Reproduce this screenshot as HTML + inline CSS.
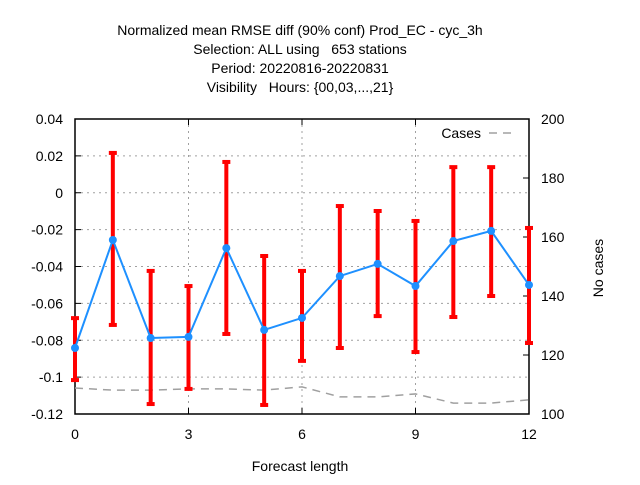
<!DOCTYPE html>
<html><head><meta charset="utf-8"><style>
body{margin:0;background:#fff}
svg{font-family:"Liberation Sans",sans-serif;font-size:14px}
.pre{white-space:pre}
</style></head><body>
<svg id="c" width="640" height="480" xmlns="http://www.w3.org/2000/svg"></svg>
<script>
const xs=[0,1,2,3,4,5,6,7,8,9,10,11,12];
const means=[-0.0842,-0.0256,-0.0788,-0.0782,-0.030,-0.0744,-0.0679,-0.0452,-0.0386,-0.0506,-0.0262,-0.0207,-0.050];
const highs=[-0.068,0.0216,-0.0424,-0.0506,0.0167,-0.0343,-0.0424,-0.0072,-0.0099,-0.0153,0.0139,0.0139,-0.0191];
const lows=[-0.1016,-0.0717,-0.1146,-0.1064,-0.0766,-0.1151,-0.0912,-0.0842,-0.0669,-0.0864,-0.0674,-0.056,-0.0815];
const cases=[108.8,108.1,108.1,108.5,108.5,108.1,109.2,105.8,105.8,106.8,103.7,103.7,104.8];
const yTicks=[0.04,0.02,0,-0.02,-0.04,-0.06,-0.08,-0.1,-0.12];
const yTickLabels=["0.04","0.02","0","-0.02","-0.04","-0.06","-0.08","-0.1","-0.12"];
const y2Ticks=[200,180,160,140,120,100];
const xTicks=[0,3,6,9,12];
const L=75,R=529,T=119,B=414;
const X=v=>L+(v-0)/12*(R-L);
const Y=v=>B-(v+0.12)/0.16*(B-T);
const Y2=v=>B-(v-100)/100*(B-T);
const svg=document.getElementById('c');
const NS='http://www.w3.org/2000/svg';
function mk(t,a,name,txt){const e=document.createElementNS(NS,t);for(const k in a)e.setAttribute(k,a[k]);


if(txt!==undefined)e.textContent=txt;svg.appendChild(e);return e;}
["Normalized mean RMSE diff (90% conf) Prod_EC - cyc_3h","Selection: ALL using   653 stations","Period: 20220816-20220831","Visibility   Hours: {00,03,...,21}"].forEach((t,i)=>{
mk('text',{x:300,y:35+i*19,'text-anchor':'middle','class':'pre'},'chart-title-line',t);});
yTicks.forEach((v,i)=>{const y=Y(v);
if(i>0&&i<yTicks.length-1)mk('line',{x1:L,x2:R,y1:y,y2:y,stroke:'#a0a0a0','stroke-dasharray':'2,4'},'y-gridline');
mk('line',{x1:L,x2:L+6,y1:y,y2:y,stroke:'#000'},'y-tick');
mk('text',{x:L-12,y:y+5,'text-anchor':'end'},'y-tick-label',yTickLabels[i]);});
y2Ticks.forEach(v=>{const y=Y2(v);
mk('line',{x1:R-6,x2:R,y1:y,y2:y,stroke:'#000'},'y2-tick');
mk('text',{x:R+12,y:y+5},'y2-tick-label',String(v));});
xTicks.forEach(v=>{const x=X(v);
if(v>0&&v<12)mk('line',{x1:x,x2:x,y1:T,y2:B,stroke:'#a0a0a0','stroke-dasharray':'2,4'},'x-gridline');
mk('line',{x1:x,x2:x,y1:B-6,y2:B,stroke:'#000'},'x-tick');
mk('line',{x1:x,x2:x,y1:T,y2:T+6,stroke:'#000'},'x-tick-top');
mk('text',{x:x,y:B+25,'text-anchor':'middle'},'x-tick-label',String(v));});
mk('rect',{x:L,y:T,width:R-L,height:B-T,fill:'none',stroke:'#000','stroke-width':1.5},'plot-frame');
mk('text',{x:300,y:471,'text-anchor':'middle'},'x-axis-title','Forecast length');
mk('text',{x:603,y:268,'text-anchor':'middle',transform:'rotate(-90 603 268)'},'y2-axis-title','No cases');
mk('polyline',{points:xs.map((x,i)=>X(x)+','+Y2(cases[i])).join(' '),fill:'none',stroke:'#a0a0a0','stroke-width':1.5,'stroke-dasharray':'8,6'},'cases-line');
mk('text',{x:481,y:138,'text-anchor':'end'},'legend-label','Cases');
mk('line',{x1:489,x2:515,y1:133,y2:133,stroke:'#a0a0a0','stroke-width':1.5,'stroke-dasharray':'8,6'},'legend-line');
xs.forEach((x,i)=>{const px=X(x);
mk('line',{x1:px,x2:px,y1:Y(highs[i]),y2:Y(lows[i]),stroke:'#f00','stroke-width':4},'error-bar');
mk('line',{x1:px-4,x2:px+4,y1:Y(highs[i]),y2:Y(highs[i]),stroke:'#f00','stroke-width':4},'error-cap-high');
mk('line',{x1:px-4,x2:px+4,y1:Y(lows[i]),y2:Y(lows[i]),stroke:'#f00','stroke-width':4},'error-cap-low');});
mk('polyline',{points:xs.map((x,i)=>X(x)+','+Y(means[i])).join(' '),fill:'none',stroke:'#1e90ff','stroke-width':2},'mean-line');
xs.forEach((x,i)=>{mk('circle',{cx:X(x),cy:Y(means[i]),r:4,fill:'#1e90ff'},'mean-point');});
</script>
</body></html>
